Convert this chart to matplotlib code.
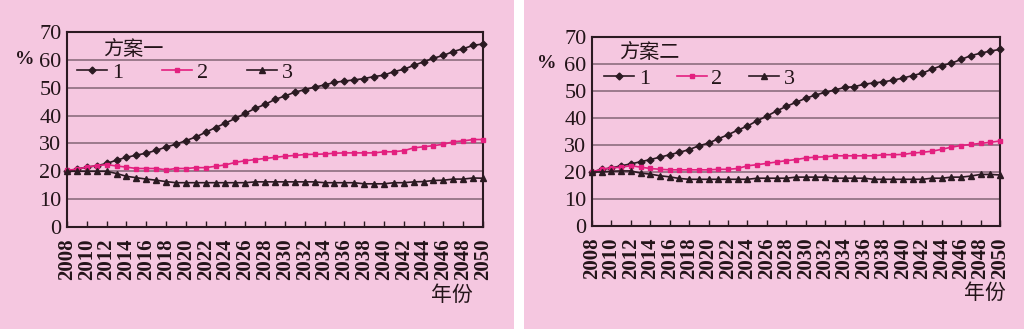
import matplotlib
matplotlib.use('Agg')
import matplotlib.pyplot as plt
from matplotlib.patches import Rectangle

plt.rcParams['font.family'] = ['Liberation Serif', 'Noto Sans CJK SC']

years = list(range(2008, 2051))
year_ticks = list(range(2008, 2051, 2))

# 方案一
plan1_s1 = [20, 20.8, 21.5, 22, 22.8, 24, 25, 25.8, 26.5, 27.5, 28.7, 29.7, 31, 32.3,
            34, 35.7, 37.3, 39, 40.8, 42.6, 44, 45.8, 47, 48.4, 49.3, 50.2, 51, 51.9,
            52.4, 52.8, 53.3, 54, 54.5, 55.8, 56.6, 58, 59.3, 60.6, 61.6, 63, 64,
            65.2, 65.7]
plan1_s2 = [20.3, 20.8, 21.5, 22, 22.4, 21.9, 21.5, 21, 21, 21, 20.5, 21, 21, 21.3,
            21.3, 21.8, 22.3, 23.2, 23.8, 24.2, 24.6, 25, 25.4, 25.7, 26, 26.1,
            26.2, 26.5, 26.6, 26.6, 26.6, 26.6, 27, 27, 27.4, 28.4, 28.8, 29.2,
            29.7, 30.6, 30.9, 31.4, 31.4]
plan1_s3 = [20, 20, 20, 20, 20, 19.2, 18.2, 17.7, 17.2, 16.8, 16.3, 15.9, 15.9, 15.9,
            15.9, 15.9, 15.9, 15.9, 15.9, 16.2, 16.2, 16.2, 16.2, 16.2, 16.2, 16.2,
            15.9, 15.9, 15.9, 15.9, 15.5, 15.5, 15.5, 15.9, 15.9, 16.2, 16.3, 16.7,
            16.8, 17.2, 17.2, 17.6, 17.5]

# 方案二
plan2_s1 = [20, 21, 21.5, 22.3, 23, 23.8, 24.6, 25.5, 26.4, 27.3, 28.3, 29.7, 30.7,
            32.3, 33.8, 35.5, 37, 39, 40.7, 42.6, 44.3, 45.8, 47.3, 48.5, 49.5,
            50.4, 51.3, 51.6, 52.5, 53, 53.4, 54, 54.8, 55.7, 56.6, 58.1, 59.4,
            60.3, 61.7, 63.1, 64, 64.8, 65.4]
plan2_s2 = [20, 21, 21.5, 21.8, 22.3, 21.8, 21.3, 21, 20.8, 20.8, 20.8, 20.8, 20.8,
            21, 21, 21.3, 22.3, 22.7, 23.2, 23.7, 24.2, 24.6, 25.2, 25.5, 25.6, 26,
            26, 26, 26, 26, 26.4, 26.4, 26.5, 27, 27.3, 27.7, 28.4, 29.2, 29.8, 30.2,
            30.6, 31, 31.5]
plan2_s3 = [20, 20, 20.3, 20.4, 20.4, 19.6, 19.2, 18.6, 18.2, 17.6, 17.3, 17.3, 17.3,
            17.3, 17.3, 17.3, 17.3, 17.7, 17.7, 17.7, 17.7, 18.1, 18.1, 18.1, 18.1,
            17.7, 17.7, 17.7, 17.7, 17.3, 17.3, 17.3, 17.3, 17.3, 17.3, 17.7, 17.7,
            18.1, 18.1, 18.5, 19.1, 19.1, 18.9]

series_labels = ['1', '2', '3']

BG = '#F5C7E0'
DARK = '#2B1A22'
PINK = '#E3207F'
GRID = '#8C6E7E'
TXT = '#231419'

fig = plt.figure(figsize=(10.24, 3.29), dpi=100, facecolor=BG)
# white separator between the two panels
fig.patches.append(Rectangle((514 / 1024, 0), 10 / 1024, 1, transform=fig.transFigure,
                             facecolor='white', edgecolor='none', zorder=0))


def draw_panel(rect, title, s1, s2, s3, title_xy, leg_xy, colspace, pct_xy, unit_xy):
    ax = fig.add_axes(rect)
    ax.set_facecolor(BG)
    ax.plot(years, s1, color=DARK, marker='D', markersize=3.5, lw=1.2, label=series_labels[0],
            clip_on=False, zorder=3)
    ax.plot(years, s2, color=PINK, marker='s', markersize=3.5, lw=1.2, label=series_labels[1],
            clip_on=False, zorder=3)
    ax.plot(years, s3, color=DARK, marker='^', markersize=4.5, lw=1.2, label=series_labels[2],
            clip_on=False, zorder=3)
    ax.set_xlim(2008, 2050)
    ax.set_ylim(0, 70)
    ax.set_yticks(range(0, 71, 10))
    ax.set_xticks(year_ticks)
    ax.set_xticklabels([str(y) for y in year_ticks], rotation=90, fontsize=15)
    ax.tick_params(axis='x', direction='in', length=4, width=1, color=DARK, pad=8)
    ax.tick_params(axis='y', length=0, labelsize=16, pad=4)
    ax.grid(axis='y', color=GRID, lw=1.2)
    ax.set_axisbelow(True)
    for sp in ax.spines.values():
        sp.set_color(DARK)
        sp.set_linewidth(1.5)
    for lab in ax.get_xticklabels():
        lab.set_color(TXT)
        lab.set_fontweight('bold')
    for lab in ax.get_yticklabels():
        lab.set_color(TXT)
    leg = ax.legend(loc='center left', bbox_to_anchor=leg_xy, ncol=3, frameon=False,
                    fontsize=16, handlelength=1.35, handletextpad=0.22,
                    columnspacing=colspace, borderaxespad=0, borderpad=0)
    for t in leg.get_texts():
        t.set_color(TXT)
    ax.text(title_xy[0], title_xy[1], title, transform=ax.transAxes, fontsize=14.5,
            family=['Noto Sans CJK SC'], color=TXT, va='top', ha='left')
    fig.text(pct_xy[0] / 1024, 1 - pct_xy[1] / 329, '%', fontsize=14, color=TXT,
             fontweight='bold', ha='center', va='center')
    fig.text(unit_xy[0] / 1024, 1 - unit_xy[1] / 329, '年份', fontsize=15,
             family=['Noto Sans CJK SC'], color=TXT, ha='center', va='center')
    return ax


draw_panel([67 / 1024, 1 - 227 / 329, 416 / 1024, 195 / 329], '方案一',
           plan1_s1, plan1_s2, plan1_s3, (0.087, 0.965), (0.024, 0.79), 1.75,
           (25, 59), (452, 295))
draw_panel([592 / 1024, 1 - 226 / 329, 408 / 1024, 189 / 329], '方案二',
           plan2_s1, plan2_s2, plan2_s3, (0.066, 0.975), (0.029, 0.78), 1.2,
           (547, 63), (985, 293))

fig.savefig('out.png', dpi=100, facecolor=BG)
